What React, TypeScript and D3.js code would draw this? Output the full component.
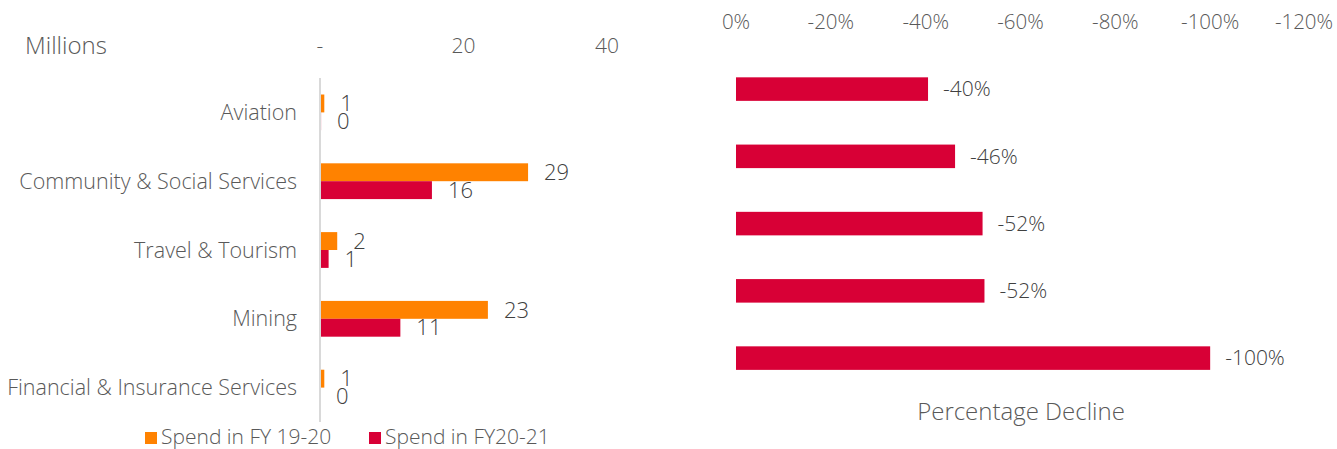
import React, { useEffect, useRef } from 'react';
import * as d3 from 'd3';

// categories, top to bottom
const categories: string[] = [
  'Aviation',
  'Community & Social Services',
  'Travel & Tourism',
  'Mining',
  'Financial & Insurance Services',
];

// spend in millions
const spend1920: number[] = [0.6, 29.0, 2.4, 23.4, 0.6];
const spend2021: number[] = [0.15, 15.6, 1.2, 11.2, 0.0];

// percentage decline (right panel)
const declines: number[] = [-0.405, -0.462, -0.52, -0.524, -1.0];

const seriesNames: string[] = ['Spend in FY 19-20', 'Spend in FY20-21'];
const leftTicks: number[] = [0, 20, 40];
const rightTicks: number[] = [0, -0.2, -0.4, -0.6, -0.8, -1.0, -1.2];

const ORANGE = '#FF8200';
const RED = '#D80036';
const TEXT = '#595959';
const FONT = "'Open Sans', 'Segoe UI', sans-serif";

const App = () => {
  const svgRef = useRef<SVGSVGElement>(null);

  useEffect(() => {
    document.body.style.margin = '0';
    const svg = d3.select(svgRef.current);
    svg.selectAll('*').remove();

    const width = 1337;
    const height = 449;
    svg.attr('width', width).attr('height', height);

    const pct = (v: number) => `${Math.round(v * 100)}%`;

    // ---- left panel: grouped horizontal bars ----
    const x = d3.scaleLinear().domain([0, 40]).range([320, 607]);
    const y0 = d3
      .scaleBand<string>()
      .domain(categories)
      .range([78, 422])
      .paddingInner(0.48)
      .paddingOuter(0.24);
    const y1 = d3
      .scaleBand<string>()
      .domain(seriesNames)
      .range([0, y0.bandwidth()]);

    const rows = categories.map((c, i) => ({
      cat: c,
      vals: [
        { s: seriesNames[0], v: spend1920[i], color: ORANGE },
        { s: seriesNames[1], v: spend2021[i], color: RED },
      ],
    }));

    const left = svg.append('g').attr('font-family', FONT).attr('font-weight', 300);

    // top axis tick labels
    left
      .selectAll('text.tick')
      .data(leftTicks)
      .enter()
      .append('text')
      .attr('class', 'tick')
      .attr('x', (d) => x(d))
      .attr('y', 46)
      .attr('dy', '0.35em')
      .attr('text-anchor', 'middle')
      .attr('font-size', 21)
      .attr('fill', TEXT)
      .text((d) => (d === 0 ? '-' : String(d)));

    left
      .append('text')
      .attr('x', 25)
      .attr('y', 46)
      .attr('dy', '0.35em')
      .attr('font-size', 24)
      .attr('fill', TEXT)
      .text('Millions');

    const groups = left
      .selectAll('g.row')
      .data(rows)
      .enter()
      .append('g')
      .attr('class', 'row')
      .attr('transform', (d) => `translate(0, ${y0(d.cat)})`);

    groups
      .selectAll('rect')
      .data((d) => d.vals)
      .enter()
      .append('rect')
      .attr('x', x(0))
      .attr('y', (d) => y1(d.s) as number)
      .attr('width', (d) => x(d.v) - x(0))
      .attr('height', y1.bandwidth())
      .attr('fill', (d) => d.color);

    groups
      .selectAll('text.val')
      .data((d) => d.vals)
      .enter()
      .append('text')
      .attr('class', 'val')
      .attr('x', (d) => x(d.v) + 16)
      .attr('y', (d) => (y1(d.s) as number) + y1.bandwidth() / 2)
      .attr('dy', '0.35em')
      .attr('font-size', 22)
      .attr('fill', '#404040')
      .text((d) => d3.format('.0f')(d.v));

    groups
      .append('text')
      .attr('x', 297)
      .attr('y', y0.bandwidth() / 2)
      .attr('dy', '0.35em')
      .attr('text-anchor', 'end')
      .attr('font-size', 21.5)
      .attr('fill', TEXT)
      .text((d) => d.cat);

    // vertical axis line
    left
      .append('line')
      .attr('x1', x(0))
      .attr('x2', x(0))
      .attr('y1', 78)
      .attr('y2', 422)
      .attr('stroke', '#D9D9D9')
      .attr('stroke-width', 2);

    // legend
    const legend = left
      .selectAll('g.legend')
      .data(seriesNames)
      .enter()
      .append('g')
      .attr('class', 'legend')
      .attr('transform', (d, i) => `translate(${[145, 369][i]}, 432)`);
    legend
      .append('rect')
      .attr('width', 12)
      .attr('height', 12)
      .attr('fill', (d, i) => [ORANGE, RED][i]);
    legend
      .append('text')
      .attr('x', 16)
      .attr('y', 5)
      .attr('dy', '0.35em')
      .attr('font-size', 21)
      .attr('fill', TEXT)
      .text((d) => d);

    // ---- right panel: percentage decline ----
    const xr = d3.scaleLinear().domain([0, -1.2]).range([736, 1305]);
    const yr = d3
      .scaleBand<string>()
      .domain(categories)
      .range([43.7, 403.5])
      .paddingInner(0.65)
      .paddingOuter(0.5);

    const right = svg.append('g').attr('font-family', FONT).attr('font-weight', 300);

    right
      .selectAll('text.tick')
      .data(rightTicks)
      .enter()
      .append('text')
      .attr('class', 'tick')
      .attr('x', (d) => Math.min(xr(d), 1304))
      .attr('y', 22)
      .attr('dy', '0.35em')
      .attr('text-anchor', 'middle')
      .attr('font-size', 20.5)
      .attr('fill', TEXT)
      .text((d) => pct(d));

    right
      .selectAll('rect')
      .data(declines)
      .enter()
      .append('rect')
      .attr('x', xr(0))
      .attr('y', (d, i) => yr(categories[i]) as number)
      .attr('width', (d) => xr(d) - xr(0))
      .attr('height', yr.bandwidth())
      .attr('fill', RED);

    right
      .selectAll('text.val')
      .data(declines)
      .enter()
      .append('text')
      .attr('class', 'val')
      .attr('x', (d) => xr(d) + 15)
      .attr('y', (d, i) => (yr(categories[i]) as number) + yr.bandwidth() / 2)
      .attr('dy', '0.35em')
      .attr('font-size', 21)
      .attr('fill', '#404040')
      .text((d) => pct(d));

    right
      .append('text')
      .attr('x', 1021)
      .attr('y', 412)
      .attr('dy', '0.35em')
      .attr('text-anchor', 'middle')
      .attr('font-size', 24)
      .attr('fill', TEXT)
      .text('Percentage Decline');

    return () => {
      svg.selectAll('*').remove();
    };
  }, []);

  return <svg ref={svgRef} style={{ display: 'block' }}></svg>;
};

export default App;
